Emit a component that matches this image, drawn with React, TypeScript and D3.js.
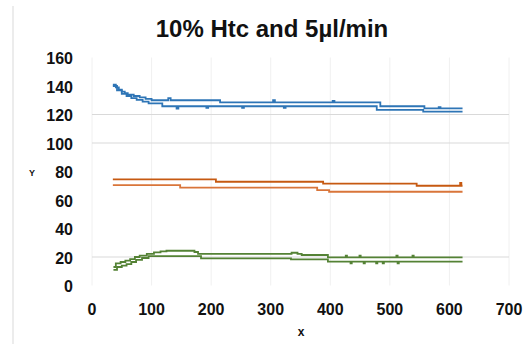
import React from "react";
import * as d3 from "d3";

// each run is drawn as two traces (upper / lower)
const blueUpper: [number, number][] = [
	[35, 141], [40, 139], [45, 137.5], [50, 136], [55, 135], [60, 134], [70, 133],
	[80, 132], [90, 131], [100, 130], [125, 130], [128, 131.5], [132, 130],
	[215, 128.5], [300, 128.5], [304, 130], [307, 128.5], [400, 128.5], [404, 129.5],
	[407, 128.5], [480, 128.5], [484, 125.8], [555, 125.8], [558, 124.3], [580, 124.3],
	[582, 125.2], [585, 124.3], [622, 124.3],
];
const blueLower: [number, number][] = [
	[35, 140], [42, 137], [50, 134.5], [58, 133], [66, 131.5], [75, 130.2], [85, 129],
	[95, 127.8], [110, 127.8], [118, 125.8], [140, 125.8], [142, 124.2], [145, 125.8],
	[190, 125.8], [192, 124.6], [195, 125.8], [250, 125.8], [252, 124.6], [255, 125.8],
	[320, 125.8], [322, 124.6], [325, 125.8], [476, 125.8], [478, 123.2], [552, 123.2],
	[556, 122], [622, 122],
];
const orangeUpper: [number, number][] = [
	[35, 74.5], [206, 74.5], [208, 72.8], [385, 72.8], [388, 71.5], [542, 71.5],
	[545, 70], [616, 70], [618, 72], [620, 70], [622, 70],
];
const orangeLower: [number, number][] = [
	[35, 70.5], [146, 70.5], [148, 68.7], [374, 68.7], [378, 67], [396, 67],
	[398, 65.8], [622, 65.8],
];
const greenUpper: [number, number][] = [
	[36, 13], [40, 15.5], [48, 16.5], [56, 17.5], [64, 18.5], [72, 20], [80, 21],
	[92, 22.2], [104, 23.2], [115, 24], [125, 24.4], [165, 24.4], [172, 23.5],
	[178, 22.2], [332, 22.2], [335, 23], [345, 22.2], [352, 21.4], [392, 21.4],
	[396, 19.8], [425, 19.8], [426, 21], [428, 19.8], [448, 19.8], [449, 21],
	[451, 19.8], [510, 19.8], [511, 21], [513, 19.8], [537, 19.8], [538, 21],
	[540, 19.8], [622, 19.8],
];
const greenLower: [number, number][] = [
	[36, 11], [42, 13], [50, 14], [58, 15], [66, 16.5], [74, 18], [84, 19.3],
	[95, 20.6], [180, 20.6], [183, 19], [330, 19], [334, 18.4], [392, 18.4],
	[396, 16.7], [433, 16.7], [434, 15.5], [436, 16.7], [455, 16.7], [456, 15.5],
	[458, 16.7], [476, 16.7], [477, 15.5], [479, 16.7], [487, 16.7], [488, 15.5],
	[490, 16.7], [512, 16.7], [513, 15.5], [515, 16.7], [622, 16.7],
];

const xTicks = [0, 100, 200, 300, 400, 500, 600, 700];
const yTicks = [0, 20, 40, 60, 80, 100, 120, 140, 160];
const yGrid = [20, 100, 120];

const traces = [
	{ name: "blue-a", pts: blueUpper, color: "#2e75b6" },
	{ name: "blue-b", pts: blueLower, color: "#2e75b6" },
	{ name: "orange-a", pts: orangeUpper, color: "#c65911" },
	{ name: "orange-b", pts: orangeLower, color: "#d9753a" },
	{ name: "green-a", pts: greenUpper, color: "#548235" },
	{ name: "green-b", pts: greenLower, color: "#548235" },
];

export default function App() {
	const x = d3.scaleLinear().domain([0, 700]).range([92, 509]);
	const y = d3.scaleLinear().domain([0, 160]).range([285.5, 57.5]);

	const line = d3
		.line<[number, number]>()
		.x((d) => x(d[0]))
		.y((d) => y(d[1]))
		.curve(d3.curveStepAfter);

	const font = "'Liberation Sans', Arial, sans-serif";

	return (
		<svg
			width={528}
			height={344}
			style={{ position: "absolute", left: 0, top: 0, background: "#fff" }}
			fontFamily={font}
		>
			<line x1={13} x2={13} y1={6} y2={344} stroke="#d9d9d9" strokeWidth={1} />

			{xTicks.map((t) => (
				<line key={"vx" + t} x1={x(t)} x2={x(t)} y1={y(160)} y2={y(0)} stroke="#f0f0f0" strokeWidth={1} />
			))}
			{yGrid.map((t) => (
				<line key={"gy" + t} x1={x(0)} x2={x(700)} y1={y(t)} y2={y(t)} stroke="#d9d9d9" strokeWidth={1} />
			))}

			{traces.map((s) => (
				<path key={s.name} d={line(s.pts) || ""} fill="none" stroke={s.color} strokeWidth={1.8} />
			))}

			{yTicks.map((t) => (
				<text
					key={"ty" + t}
					x={73}
					y={y(t) + 1}
					textAnchor="end"
					dominantBaseline="central"
					fontSize={16}
					fontWeight="bold"
					fill="#111"
				>
					{t}
				</text>
			))}
			{xTicks.map((t) => (
				<text
					key={"tx" + t}
					x={x(t)}
					y={309.5}
					textAnchor="middle"
					dominantBaseline="central"
					fontSize={16}
					fontWeight="bold"
					fill="#111"
				>
					{t}
				</text>
			))}

			<text x={272} y={37} textAnchor="middle" fontSize={24} fontWeight="bold" fill="#111">
				10% Htc and 5µl/min
			</text>
			<text x={32} y={173} textAnchor="middle" dominantBaseline="central" fontSize={9} fontWeight="bold" fill="#111">
				Y
			</text>
			<text x={301} y={332} textAnchor="middle" dominantBaseline="central" fontSize={12} fontWeight="bold" fill="#111">
				x
			</text>
		</svg>
	);
}
